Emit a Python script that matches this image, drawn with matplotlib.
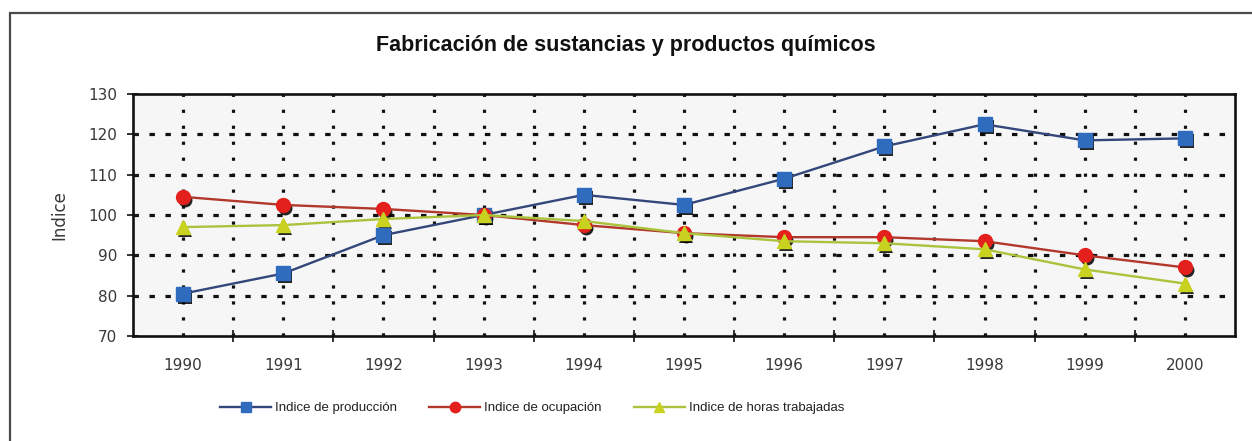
import numpy as np
import matplotlib
matplotlib.use("Agg")
import matplotlib.pyplot as plt
import matplotlib.transforms as mtransforms
from matplotlib.patches import Rectangle

plt.rcParams['font.family'] = ['Liberation Sans', 'DejaVu Sans']

years = ['1990', '1991', '1992', '1993', '1994', '1995', '1996', '1997', '1998', '1999', '2000']
produccion = [80.5, 85.5, 95, 100, 105, 102.5, 109, 117, 122.5, 118.5, 119]
ocupacion = [104.5, 102.5, 101.5, 100, 97.5, 95.5, 94.5, 94.5, 93.5, 90, 87]
horas = [97, 97.5, 99, 100, 98.5, 95.5, 93.5, 93, 91.5, 86.5, 83]

series = [
    ('Indice de producción', produccion, '#34477a', '#2f6cbd', 's', 9.5),
    ('Indice de ocupación', ocupacion, '#b2382c', '#e3201c', 'o', 10),
    ('Indice de horas trabajadas', horas, '#a9c43c', '#c9d21e', '^', 10.5),
]

fig = plt.figure(figsize=(12.52, 4.41), dpi=100)
fig.patch.set_facecolor('white')

# outer chart border (runs off right and bottom edges)
fig.patches.append(Rectangle((10 / 1252, -0.05), 1.1, 1 - 13 / 441 + 0.05,
                             transform=fig.transFigure, fill=False,
                             edgecolor='#4a4a4a', linewidth=1.6, clip_on=False))

ax = fig.add_axes([133 / 1252, 1 - 336 / 441, (1235 - 133) / 1252, (336 - 94) / 441])
ax.set_facecolor('#f6f6f6')

x = np.arange(len(years))
ax.set_xlim(-0.5, len(years) - 0.5)
ax.set_ylim(70, 130)

# grid: dotted verticals at categories and boundaries, dashed horizontals
for xv in np.arange(0, len(years) - 0.5, 0.5):
    ax.axvline(xv, color='#111111', linewidth=2.3, linestyle=(0, (1.0, 4.0)), zorder=1)
for yv in range(80, 130, 10):
    ax.axhline(yv, color='#111111', linewidth=2.3, linestyle=(0, (1.7, 3.3)), zorder=1)

shadow = mtransforms.offset_copy(ax.transData, fig=fig, x=2, y=-3, units='dots')
for label, vals, lc, mc, mk, ms in series:
    ax.plot(x, vals, color='black', linestyle='none', marker=mk, markersize=ms,
            markeredgewidth=0, alpha=0.85, transform=shadow, zorder=3)
    ax.plot(x, vals, color=lc, linewidth=1.7, marker=mk, markersize=ms,
            markerfacecolor=mc, markeredgecolor=mc, label=label, zorder=4)

ax.set_yticks(range(70, 131, 10))
ax.set_xticks(x)
ax.set_xticklabels(years, family='DejaVu Sans')
ax.set_yticklabels([str(v) for v in range(70, 131, 10)], family='DejaVu Sans')
ax.set_xticks(np.arange(0.5, len(years) - 1, 1), minor=True)
ax.tick_params(axis='x', which='major', length=0, pad=16, labelsize=11, labelcolor='#383838')
ax.tick_params(axis='x', which='minor', direction='inout', length=9, width=1.3, color='#222222')
ax.tick_params(axis='y', direction='inout', length=9, width=1.3, color='#222222',
               labelsize=11, labelcolor='#383838', pad=7)

for s in ax.spines.values():
    s.set_color('#111111')
    s.set_linewidth(1.9)

ax.set_ylabel('Indice', fontsize=12, color='#383838', labelpad=14, family='DejaVu Sans')

fig.text(0.5, 1 - 46 / 441, 'Fabricación de sustancias y productos químicos',
         ha='center', va='center', fontsize=15.5, fontweight='bold', color='#111111')

leg = fig.legend(loc='center', bbox_to_anchor=(0.425, 1 - 408 / 441), ncol=3,
                 frameon=False, fontsize=9.5, handlelength=3.9, columnspacing=2.4,
                 handletextpad=0.3, markerscale=0.75)
for t in leg.get_texts():
    t.set_color('#222222')

fig.savefig('out.png', dpi=100, facecolor='white')
